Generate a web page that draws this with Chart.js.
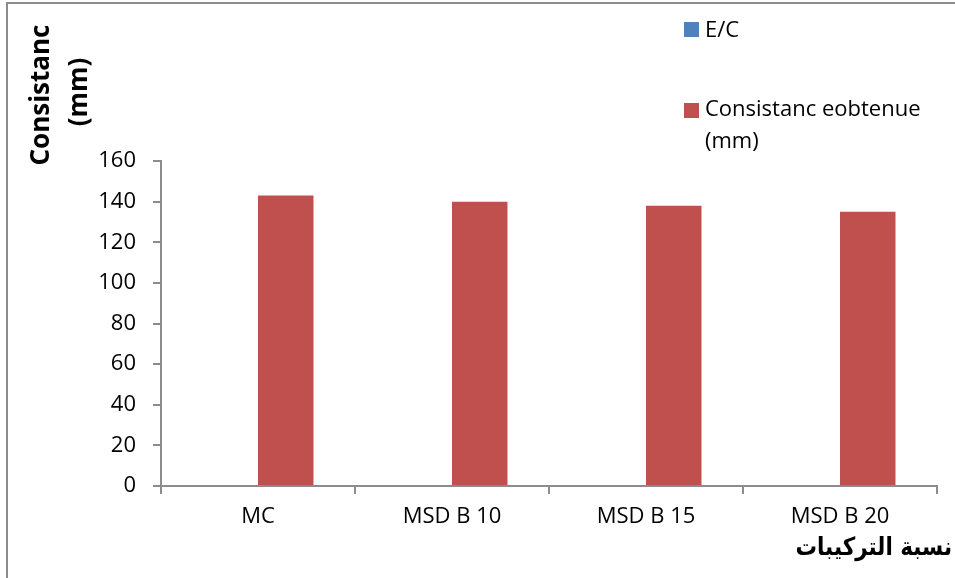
<!DOCTYPE html>
<html>
<head>
<meta charset="utf-8">
<script src="https://cdn.jsdelivr.net/npm/chart.js@4.4.1/dist/chart.umd.min.js"></script>
<style>
  html, body { margin: 0; padding: 0; background: #fff; }
  #wrap { position: relative; width: 955px; height: 578px; }
</style>
</head>
<body>
<div id="wrap"><canvas id="c" width="955" height="578"></canvas></div>
<script>
// Mix designs and their measured values
const categories = ['MC', 'MSD B 10', 'MSD B 15', 'MSD B 20'];
const ratioEC = [0.5, 0.5, 0.5, 0.5];
const consistance = [143, 140, 138, 135];
const yTicks = [0, 20, 40, 60, 80, 100, 120, 140, 160];

const seriesNames = ['E/C', ['Consistanc eobtenue', '(mm)']];
const yTitle = ['Consistanc', '(mm)'];
const xTitle = 'نسبة التركيبات';

const BLUE = '#4f81bd';
const RED = '#c0504d';
const AXIS = '#8c8c8c';
const FONT = '"Open Sans", "Noto Sans", sans-serif';

// Frame, axis titles and legend drawn on the canvas
const decorations = {
  id: 'decorations',
  afterDraw(chart) {
    const ctx = chart.ctx;
    ctx.save();
    // outer frame (top and left edges)
    ctx.strokeStyle = '#8c8c8c';
    ctx.lineWidth = 2;
    ctx.beginPath();
    ctx.moveTo(7, 578);
    ctx.lineTo(7, 3);
    ctx.lineTo(955, 3);
    ctx.stroke();

    // y axis title, rotated
    ctx.fillStyle = '#000';
    ctx.font = 'bold 26px ' + FONT;
    ctx.textAlign = 'center';
    ctx.textBaseline = 'middle';
    ctx.save();
    ctx.translate(42, 95);
    ctx.rotate(-Math.PI / 2);
    ctx.fillText(yTitle[0], 0, 0);
    ctx.restore();
    ctx.save();
    ctx.translate(80, 92);
    ctx.rotate(-Math.PI / 2);
    ctx.fillText(yTitle[1], 0, 0);
    ctx.restore();

    // x axis title (slightly condensed)
    ctx.save();
    ctx.font = 'bold 25px "DejaVu Sans", sans-serif';
    ctx.textAlign = 'right';
    ctx.translate(952, 548);
    ctx.scale(0.86, 1);
    ctx.fillText(xTitle, 0, 0);
    ctx.restore();

    // legend
    ctx.font = '22px ' + FONT;
    ctx.textAlign = 'left';
    ctx.fillStyle = BLUE;
    ctx.fillRect(684, 22, 15, 15);
    ctx.fillStyle = RED;
    ctx.fillRect(684, 103, 15, 15);
    ctx.fillStyle = '#000';
    ctx.fillText(seriesNames[0], 705, 31);
    ctx.fillText(seriesNames[1][0], 705, 110);
    ctx.fillText(seriesNames[1][1], 705, 142);
    ctx.restore();
  }
};

new Chart(document.getElementById('c'), {
  type: 'bar',
  data: {
    labels: categories,
    datasets: [
      { label: 'E/C', data: ratioEC, backgroundColor: BLUE, borderWidth: 0 },
      { label: 'Consistanc eobtenue (mm)', data: consistance, backgroundColor: RED, borderWidth: 0 }
    ]
  },
  options: {
    responsive: false,
    animation: false,
    events: [],
    layout: { padding: { left: 0, right: 18, top: 161, bottom: 52 } },
    datasets: { bar: { categoryPercentage: 0.572, barPercentage: 1.0 } },
    plugins: { legend: { display: false }, tooltip: { enabled: false } },
    scales: {
      x: {
        grid: { display: true, drawOnChartArea: false, offset: true, color: AXIS, tickLength: 8, lineWidth: 2 },
        border: { display: true, color: AXIS, width: 2 },
        ticks: { color: '#000', font: { family: FONT, size: 22 }, padding: 10, maxRotation: 0 },
        afterFit(s) { s.height = 40; }
      },
      y: {
        min: 0, max: 160,
        afterBuildTicks(s) { s.ticks = yTicks.map(v => ({ value: v })); },
        grid: { display: true, drawOnChartArea: false, color: AXIS, tickLength: 8, lineWidth: 2 },
        border: { display: true, color: AXIS, width: 2 },
        ticks: { color: '#000', font: { family: FONT, size: 22 }, padding: 17 },
        afterFit(s) { s.width = 161; }
      }
    }
  },
  plugins: [decorations]
});
</script>
</body>
</html>
